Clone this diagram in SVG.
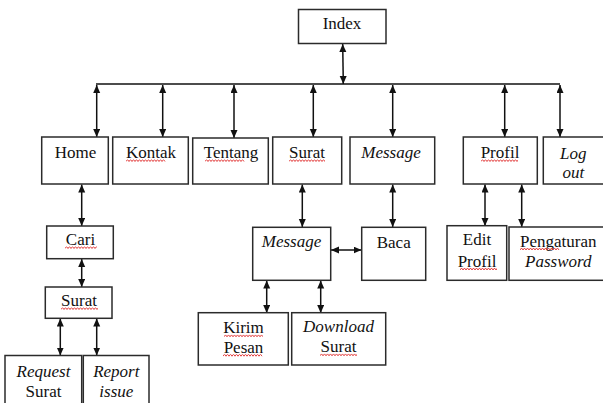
<svg xmlns="http://www.w3.org/2000/svg" width="603" height="403" viewBox="0 0 603 403">
<style>
.box{fill:#fff;stroke:#2b2b2b;stroke-width:1.5}
text{font-family:'Liberation Serif','DejaVu Serif',serif;font-size:17px;fill:#111;text-anchor:middle}
.i{font-style:italic}
.c{stroke:#111;stroke-width:1.5;fill:none;marker-start:url(#ah);marker-end:url(#ah)}
.sq{fill:none;stroke:#e03030;stroke-width:0.9}
</style>
<defs>
<marker id="ah" markerUnits="userSpaceOnUse" markerWidth="9" markerHeight="8" refX="8" refY="3.5" orient="auto-start-reverse">
<path d="M0,0 L8,3.5 L0,7 z" fill="#111"/>
</marker>
<path id="w" d="M0,2 l1.5,-2 l1.5,2 l1.5,-2 l1.5,2 l1.5,-2 l1.5,2 l1.5,-2 l1.5,2 l1.5,-2 l1.5,2 l1.5,-2 l1.5,2 l1.5,-2 l1.5,2 l1.5,-2 l1.5,2 l1.5,-2 l1.5,2 l1.5,-2 l1.5,2 l1.5,-2 l1.5,2 l1.5,-2 l1.5,2 l1.5,-2 l1.5,2"/>
<clipPath id="c36"><rect x="0" y="-1" width="36" height="5"/></clipPath>
</defs>
<rect width="603" height="403" fill="#fff"/>

<g id="connectors">
<line x1="96" y1="84" x2="560" y2="84" stroke="#111" stroke-width="1.5"/>
<line class="c" x1="342.7" y1="44" x2="343.3" y2="84"/>
<line class="c" x1="96.7" y1="85" x2="96.7" y2="137"/>
<line class="c" x1="162.7" y1="85" x2="162.7" y2="137"/>
<line class="c" x1="234" y1="85" x2="234" y2="138"/>
<line class="c" x1="313.3" y1="85" x2="313.3" y2="137"/>
<line class="c" x1="392.7" y1="85" x2="392.7" y2="137"/>
<line class="c" x1="504.7" y1="85" x2="504.7" y2="137"/>
<line class="c" x1="560" y1="85" x2="560" y2="137"/>
<line class="c" x1="81.7" y1="184.5" x2="81.7" y2="226"/>
<line class="c" x1="81.7" y1="259" x2="81.7" y2="287"/>
<line class="c" x1="60.3" y1="318.5" x2="60.3" y2="355.5"/>
<line class="c" x1="96.7" y1="318.5" x2="96.7" y2="355.5"/>
<line class="c" x1="302.3" y1="184.5" x2="302.3" y2="227"/>
<line class="c" x1="392.7" y1="184.5" x2="392.7" y2="227"/>
<line class="c" x1="331" y1="250" x2="361.5" y2="250"/>
<line class="c" x1="266.7" y1="280.5" x2="266.7" y2="313"/>
<line class="c" x1="320.7" y1="280.5" x2="320.7" y2="313"/>
<line class="c" x1="485" y1="184.5" x2="485" y2="226"/>
<line class="c" x1="521.7" y1="184.5" x2="521.7" y2="227"/>
</g>

<g id="index"><rect class="box" x="298.5" y="9.5" width="87.5" height="34"/><text x="342" y="28.5">Index</text></g>
<g id="home"><rect class="box" x="41.7" y="137" width="66.6" height="47"/><text x="75.5" y="158">Home</text></g>
<g id="kontak"><rect class="box" x="112.7" y="137" width="75.6" height="47"/><text x="151" y="158">Kontak</text><svg x="126" y="159.5" width="51" height="3" overflow="hidden"><use href="#w" class="sq"/></svg></g>
<g id="tentang"><rect class="box" x="192.7" y="138" width="75.6" height="46"/><text x="231" y="158">Tentang</text><svg x="205" y="159.5" width="52" height="3" overflow="hidden"><use href="#w" class="sq"/></svg></g>
<g id="surat"><rect class="box" x="272.7" y="137" width="69" height="47"/><text x="307" y="158">Surat</text><svg x="289" y="159.5" width="36" height="3" overflow="hidden"><use href="#w" class="sq"/></svg></g>
<g id="message"><rect class="box" x="350" y="137" width="84.7" height="47"/><text class="i" x="391" y="158">Message</text></g>
<g id="profil"><rect class="box" x="463.3" y="137" width="74" height="47"/><text x="500" y="158">Profil</text><svg x="481" y="159.5" width="37" height="3" overflow="hidden"><use href="#w" class="sq"/></svg></g>
<g id="logout"><rect class="box" x="543.3" y="137" width="62" height="47"/><text class="i" x="573.3" y="159">Log</text><text class="i" x="573.3" y="177.7">out</text></g>

<g id="cari"><rect class="box" x="46.7" y="226" width="66.6" height="32.7"/><text x="80.5" y="245">Cari</text><svg x="65" y="246.5" width="32" height="3" overflow="hidden"><use href="#w" class="sq"/></svg></g>
<g id="surat2"><rect class="box" x="45.3" y="287" width="66.7" height="31.3"/><text x="79" y="306">Surat</text><svg x="61" y="307.5" width="37" height="3" overflow="hidden"><use href="#w" class="sq"/></svg></g>
<g id="request"><rect class="box" x="5" y="355.5" width="76.7" height="50"/><text class="i" x="43.5" y="376.7">Request</text><text x="43.5" y="396.7">Surat</text></g>
<g id="report"><rect class="box" x="83.3" y="355.5" width="65.7" height="50"/><text class="i" x="116.3" y="376.7">Report</text><text class="i" x="116.3" y="396.7">issue</text></g>

<g id="message2"><rect class="box" x="252.7" y="227.3" width="78" height="53"/><text class="i" x="291.5" y="246.7">Message</text></g>
<g id="baca"><rect class="box" x="361.7" y="227.3" width="64" height="53"/><text x="393.7" y="247.7">Baca</text></g>
<g id="kirim"><rect class="box" x="198.3" y="312.7" width="90" height="52.3"/><text x="243.5" y="333.3">Kirim</text><text x="243.5" y="352.7">Pesan</text><svg x="224" y="334.8" width="39" height="3" overflow="hidden"><use href="#w" class="sq"/></svg><svg x="223" y="354.2" width="40" height="3" overflow="hidden"><use href="#w" class="sq"/></svg></g>
<g id="download"><rect class="box" x="291.7" y="312.7" width="94" height="52.3"/><text class="i" x="338.5" y="332.3">Download</text><text x="338.5" y="352.3">Surat</text><svg x="320" y="353.8" width="37" height="3" overflow="hidden"><use href="#w" class="sq"/></svg></g>

<g id="editprofil"><rect class="box" x="447" y="225.7" width="59.7" height="54.6"/><text x="477" y="245">Edit</text><text x="477" y="266.7">Profil</text><svg x="460" y="268" width="37" height="3" overflow="hidden"><use href="#w" class="sq"/></svg></g>
<g id="pengaturan"><rect class="box" x="509" y="227" width="96" height="53.3"/><text x="558.3" y="246.7">Pengaturan</text><text class="i" x="558.3" y="266.7">Password</text><svg x="520" y="248" width="78" height="3" overflow="hidden"><use href="#w" class="sq"/></svg></g>
</svg>
